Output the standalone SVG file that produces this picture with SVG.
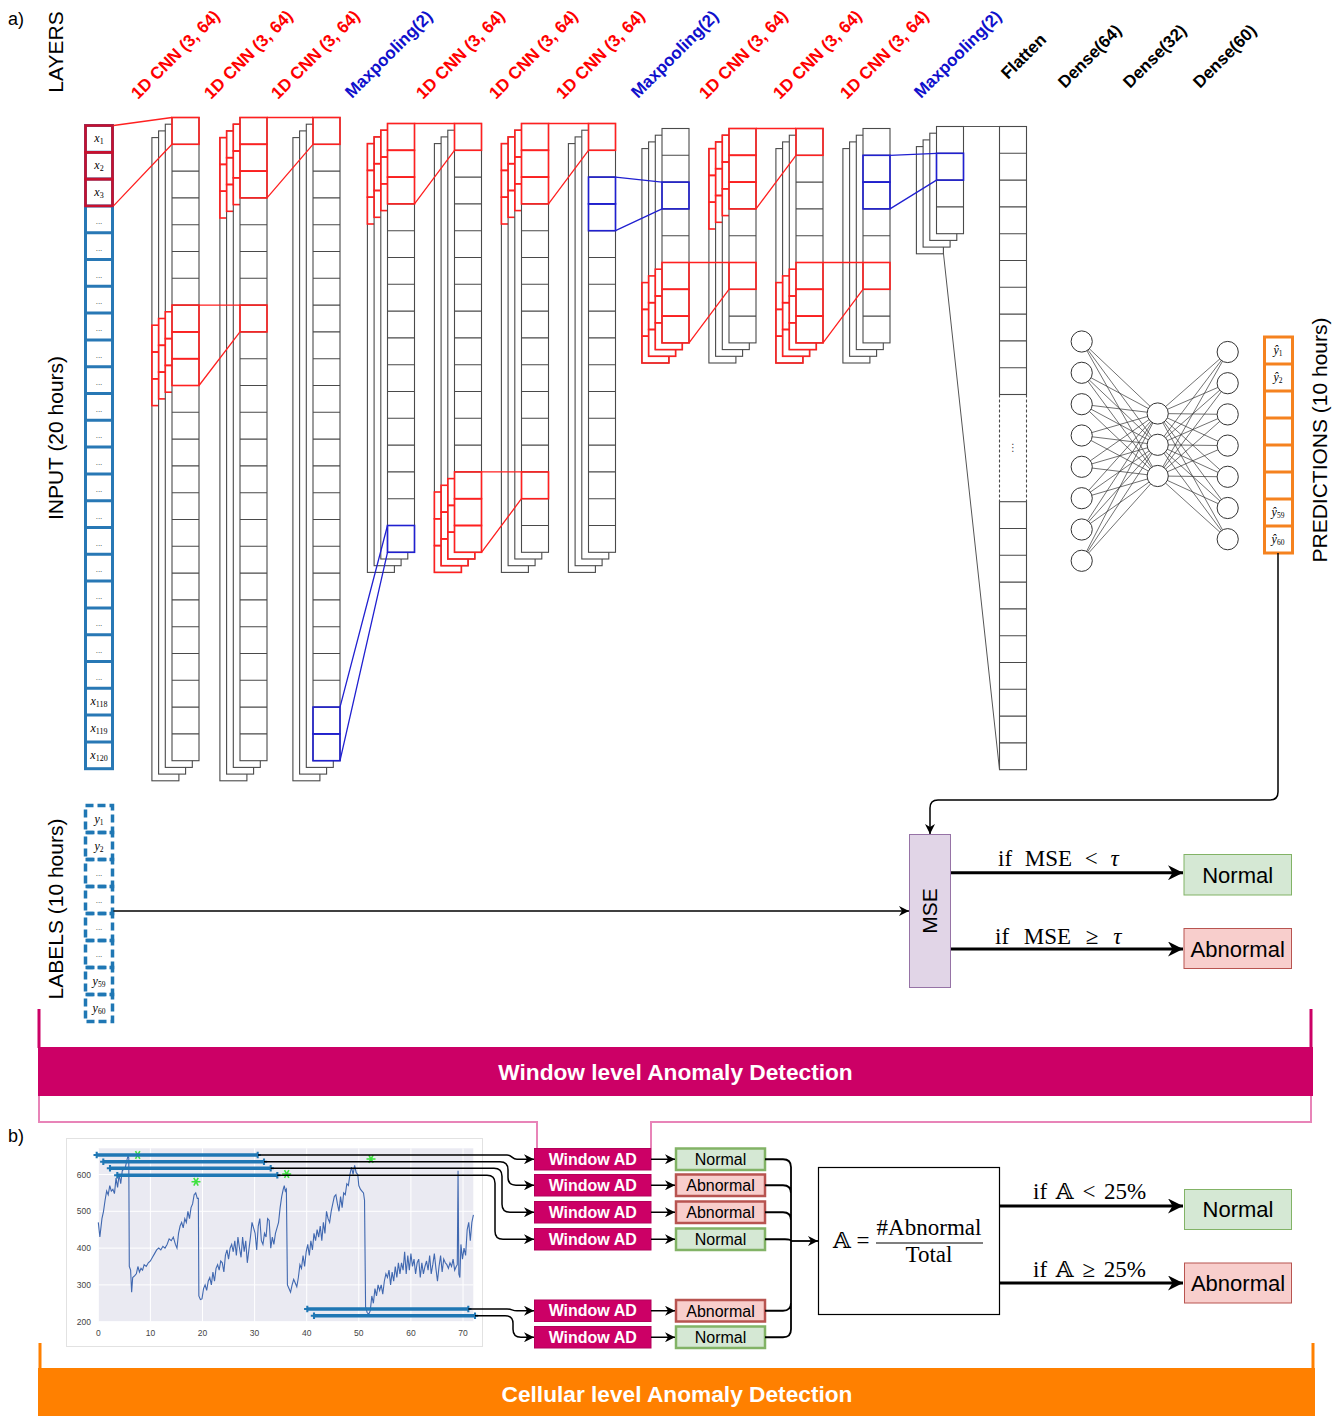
<svg xmlns="http://www.w3.org/2000/svg" width="1339" height="1416" viewBox="0 0 1339 1416">
<defs>
<style>
.col{fill:#fff;stroke:#4a4a4a;stroke-width:1.1}
.dv{fill:none;stroke:#4a4a4a;stroke-width:1.1}
.kr{fill:none;stroke:#ff2020;stroke-width:1.6}
.kb{fill:none;stroke:#2020d0;stroke-width:1.6}
.cr{fill:none;stroke:#ff2020;stroke-width:1.3}
.cb{fill:none;stroke:#2020d0;stroke-width:1.3}
.cg{fill:none;stroke:#555;stroke-width:1}
.lab{font-family:"Liberation Sans",Arial,sans-serif;font-weight:bold;font-size:17px}
.red{fill:#ff0000}
.blu{fill:#1010cc}
.blk{fill:#000}
.side{font-family:"Liberation Sans",Arial,sans-serif;font-size:21px;fill:#000;text-anchor:middle}
.mth{font-family:"Liberation Serif","DejaVu Serif",serif;font-style:italic;font-size:12px;text-anchor:middle;fill:#000}
.dots{font-family:"Liberation Sans",sans-serif;font-size:8px;text-anchor:middle;fill:#333}
.neu{fill:#fff;stroke:#333;stroke-width:1}
.edge{fill:none;stroke:#333;stroke-width:0.7}
.conn{fill:none;stroke:#000;stroke-width:1.5}
.bus{fill:none;stroke:#000;stroke-width:1.8}
.thick{fill:none;stroke:#000;stroke-width:3}
.ok{fill:#d5e8d4;stroke:#82b366}
.bad{fill:#f8cecc;stroke:#b85450}
.bt{font-family:"Liberation Sans",Arial,sans-serif;text-anchor:middle;fill:#000}
.wad{fill:#cc0066;stroke:#b3005a}
.wt{font-family:"Liberation Sans",Arial,sans-serif;font-weight:bold;font-size:16px;fill:#fff;text-anchor:middle}
.cond{font-family:"Liberation Serif","DejaVu Serif",serif;font-size:23px;fill:#000}
.tick{font-family:"Liberation Sans",Arial,sans-serif;font-size:8.5px;fill:#444}
.bar{fill:none;stroke:#1f77b4;stroke-width:3.5;marker-start:url(#pl);marker-end:url(#pl)}
.ban{font-family:"Liberation Sans",Arial,sans-serif;font-weight:bold;font-size:22.7px;fill:#fff;text-anchor:middle}
</style>
<marker id="ah" viewBox="0 0 10 10" refX="10" refY="5" markerWidth="10" markerHeight="10" markerUnits="userSpaceOnUse" orient="auto"><path d="M0 0L10 5L0 10L3 5z" fill="#000"/></marker>
<marker id="ahb" viewBox="0 0 10 10" refX="10" refY="5" markerWidth="15" markerHeight="15" markerUnits="userSpaceOnUse" orient="auto"><path d="M0 0L10 5L0 10L3 5z" fill="#000"/></marker>
<marker id="pl" viewBox="-5 -5 10 10" refX="0" refY="0" markerWidth="8" markerHeight="8" markerUnits="userSpaceOnUse"><path d="M-4 0H4M0 -4V4" stroke="#1f77b4" stroke-width="2.6"/></marker>
<rect id="b24" class="col" width="27" height="643.2"/>
<rect id="b16" class="col" width="27" height="428.8"/>
<rect id="b8" class="col" width="27" height="214.4"/>
<rect id="b4" class="col" width="27" height="107.2"/>
<g id="f24"><rect class="col" width="27" height="643.2"/><path class="dv" d="M0 26.8h27m-27 26.8h27m-27 26.8h27m-27 26.8h27m-27 26.8h27m-27 26.8h27m-27 26.8h27m-27 26.8h27m-27 26.8h27m-27 26.8h27m-27 26.8h27m-27 26.8h27m-27 26.8h27m-27 26.8h27m-27 26.8h27m-27 26.8h27m-27 26.8h27m-27 26.8h27m-27 26.8h27m-27 26.8h27m-27 26.8h27m-27 26.8h27m-27 26.8h27"/></g>
<g id="f16"><rect class="col" width="27" height="428.8"/><path class="dv" d="M0 26.8h27m-27 26.8h27m-27 26.8h27m-27 26.8h27m-27 26.8h27m-27 26.8h27m-27 26.8h27m-27 26.8h27m-27 26.8h27m-27 26.8h27m-27 26.8h27m-27 26.8h27m-27 26.8h27m-27 26.8h27m-27 26.8h27"/></g>
<g id="f10"><rect class="col" width="27" height="268"/><path class="dv" d="M0 26.8h27m-27 26.8h27m-27 26.8h27m-27 26.8h27m-27 26.8h27m-27 26.8h27m-27 26.8h27m-27 26.8h27m-27 26.8h27"/></g>
<g id="f8"><rect class="col" width="27" height="214.4"/><path class="dv" d="M0 26.8h27m-27 26.8h27m-27 26.8h27m-27 26.8h27m-27 26.8h27m-27 26.8h27m-27 26.8h27"/></g>
<g id="f4"><rect class="col" width="27" height="107.2"/><path class="dv" d="M0 26.8h27m-27 26.8h27m-27 26.8h27"/></g>
<g id="k3"><rect class="kr" width="27" height="26.8"/><rect class="kr" y="26.8" width="27" height="26.8"/><rect class="kr" y="53.6" width="27" height="26.8"/></g>
<rect id="k1" class="kr" width="27" height="26.8"/>
<g id="q2"><rect class="kb" width="27" height="26.8"/><rect class="kb" y="26.8" width="27" height="26.8"/></g>
<rect id="q1" class="kb" width="27" height="26.8"/>
<path id="star" d="M-4.5 0H4.5M-2.2 -3.9L2.2 3.9M-2.2 3.9L2.2 -3.9" stroke="#3ee23e" stroke-width="1.6" fill="none"/>
</defs>
<rect width="1339" height="1416" fill="#fff"/>

<g id="titles">
<text x="8" y="25" font-family="Liberation Sans,Arial,sans-serif" font-size="18">a)</text>
<text x="8" y="1142" font-family="Liberation Sans,Arial,sans-serif" font-size="18">b)</text>
<text class="side" transform="translate(63 52) rotate(-90)">LAYERS</text>
<text class="side" transform="translate(63 438) rotate(-90)">INPUT (20 hours)</text>
<text class="side" transform="translate(63 909) rotate(-90)">LABELS (10 hours)</text>
<text class="side" transform="translate(1327 440) rotate(-90)">PREDICTIONS (10 hours)</text>
</g>

<g id="layer-labels" class="lab">
<text class="red" transform="translate(138 100) rotate(-45)">1D CNN (3, 64)</text>
<text class="red" transform="translate(211 100) rotate(-45)">1D CNN (3, 64)</text>
<text class="red" transform="translate(278 100) rotate(-45)">1D CNN (3, 64)</text>
<text class="blu" transform="translate(352 99) rotate(-45)">Maxpooling(2)</text>
<text class="red" transform="translate(423 100) rotate(-45)">1D CNN (3, 64)</text>
<text class="red" transform="translate(496 100) rotate(-45)">1D CNN (3, 64)</text>
<text class="red" transform="translate(563 100) rotate(-45)">1D CNN (3, 64)</text>
<text class="blu" transform="translate(638 99) rotate(-45)">Maxpooling(2)</text>
<text class="red" transform="translate(706 100) rotate(-45)">1D CNN (3, 64)</text>
<text class="red" transform="translate(780 100) rotate(-45)">1D CNN (3, 64)</text>
<text class="red" transform="translate(847 100) rotate(-45)">1D CNN (3, 64)</text>
<text class="blu" transform="translate(921 99) rotate(-45)">Maxpooling(2)</text>
<text class="blk" transform="translate(1008 80) rotate(-45)">Flatten</text>
<text class="blk" transform="translate(1065 89) rotate(-45)">Dense(64)</text>
<text class="blk" transform="translate(1130 89) rotate(-45)">Dense(32)</text>
<text class="blk" transform="translate(1200 89) rotate(-45)">Dense(60)</text>
</g>

<g id="input">
<rect x="85.5" y="125.5" width="27" height="643.2" fill="#fff" stroke="#2878b5" stroke-width="3"/>
<path transform="translate(85.5 125.5)" fill="none" stroke="#2878b5" stroke-width="3" d="M0 26.8h27m-27 26.8h27m-27 26.8h27m-27 26.8h27m-27 26.8h27m-27 26.8h27m-27 26.8h27m-27 26.8h27m-27 26.8h27m-27 26.8h27m-27 26.8h27m-27 26.8h27m-27 26.8h27m-27 26.8h27m-27 26.8h27m-27 26.8h27m-27 26.8h27m-27 26.8h27m-27 26.8h27m-27 26.8h27m-27 26.8h27m-27 26.8h27m-27 26.8h27"/>
<g fill="none" stroke="#c8102e" stroke-width="2.6"><rect x="85.5" y="125.5" width="27" height="26.8"/><rect x="85.5" y="152.3" width="27" height="26.8"/><rect x="85.5" y="179.1" width="27" height="26.8"/></g>
<g class="mth"><text x="99" y="142.4">x<tspan font-size="8" font-style="normal" dy="2">1</tspan></text><text x="99" y="169.2">x<tspan font-size="8" font-style="normal" dy="2">2</tspan></text><text x="99" y="196">x<tspan font-size="8" font-style="normal" dy="2">3</tspan></text><text x="99" y="705.2">x<tspan font-size="8" font-style="normal" dy="2">118</tspan></text><text x="99" y="732">x<tspan font-size="8" font-style="normal" dy="2">119</tspan></text><text x="99" y="758.8">x<tspan font-size="8" font-style="normal" dy="2">120</tspan></text></g>
<g class="dots"><text x="99" y="224">...</text><text x="99" y="250.8">...</text><text x="99" y="277.6">...</text><text x="99" y="304.4">...</text><text x="99" y="331.2">...</text><text x="99" y="358">...</text><text x="99" y="384.8">...</text><text x="99" y="411.6">...</text><text x="99" y="438.4">...</text><text x="99" y="465.2">...</text><text x="99" y="492">...</text><text x="99" y="518.8">...</text><text x="99" y="545.6">...</text><text x="99" y="572.4">...</text><text x="99" y="599.2">...</text><text x="99" y="626">...</text><text x="99" y="652.8">...</text><text x="99" y="679.6">...</text></g>
</g>

<g id="layer1">
<use href="#b24" x="151.9" y="137.6"/><use href="#k3" x="151.9" y="325.2"/>
<use href="#b24" x="158.6" y="130.9"/><use href="#k3" x="158.6" y="318.5"/>
<use href="#b24" x="165.3" y="124.2"/><use href="#k3" x="165.3" y="311.8"/>
<use href="#f24" x="172" y="117.5"/><use href="#k3" x="172" y="305.1"/><use href="#k1" x="172" y="117.5"/>
</g>
<g id="layer2">
<use href="#b24" x="219.9" y="137.6"/><use href="#k3" x="219.9" y="137.6"/>
<use href="#b24" x="226.6" y="130.9"/><use href="#k3" x="226.6" y="130.9"/>
<use href="#b24" x="233.3" y="124.2"/><use href="#k3" x="233.3" y="124.2"/>
<use href="#f24" x="240" y="117.5"/><use href="#k3" x="240" y="117.5"/><use href="#k1" x="240" y="305.1"/>
</g>
<g id="layer3">
<use href="#b24" x="292.9" y="137.6"/><use href="#b24" x="299.6" y="130.9"/><use href="#b24" x="306.3" y="124.2"/>
<use href="#f24" x="313" y="117.5"/><use href="#k1" x="313" y="117.5"/><use href="#q2" x="313" y="707.1"/>
</g>
<g id="layer4">
<use href="#b16" x="367.4" y="143.6"/><use href="#k3" x="367.4" y="143.6"/>
<use href="#b16" x="374.1" y="136.9"/><use href="#k3" x="374.1" y="136.9"/>
<use href="#b16" x="380.8" y="130.2"/><use href="#k3" x="380.8" y="130.2"/>
<use href="#f16" x="387.5" y="123.5"/><use href="#k3" x="387.5" y="123.5"/><use href="#q1" x="387.5" y="525.5"/>
</g>
<g id="layer5">
<use href="#b16" x="434.4" y="143.6"/><use href="#k3" x="434.4" y="492"/>
<use href="#b16" x="441.1" y="136.9"/><use href="#k3" x="441.1" y="485.3"/>
<use href="#b16" x="447.8" y="130.2"/><use href="#k3" x="447.8" y="478.6"/>
<use href="#f16" x="454.5" y="123.5"/><use href="#k3" x="454.5" y="471.9"/><use href="#k1" x="454.5" y="123.5"/>
</g>
<g id="layer6">
<use href="#b16" x="501.4" y="143.6"/><use href="#k3" x="501.4" y="143.6"/>
<use href="#b16" x="508.1" y="136.9"/><use href="#k3" x="508.1" y="136.9"/>
<use href="#b16" x="514.8" y="130.2"/><use href="#k3" x="514.8" y="130.2"/>
<use href="#f16" x="521.5" y="123.5"/><use href="#k3" x="521.5" y="123.5"/><use href="#k1" x="521.5" y="471.9"/>
</g>
<g id="layer7">
<use href="#b16" x="568.4" y="143.6"/><use href="#b16" x="575.1" y="136.9"/><use href="#b16" x="581.8" y="130.2"/>
<use href="#f16" x="588.5" y="123.5"/><use href="#k1" x="588.5" y="123.5"/><use href="#q2" x="588.5" y="177.1"/>
</g>
<g id="layer8">
<use href="#b8" x="641.9" y="148.6"/><use href="#k3" x="641.9" y="282.6"/>
<use href="#b8" x="648.6" y="141.9"/><use href="#k3" x="648.6" y="275.9"/>
<use href="#b8" x="655.3" y="135.2"/><use href="#k3" x="655.3" y="269.2"/>
<use href="#f8" x="662" y="128.5"/><use href="#k3" x="662" y="262.5"/><use href="#q1" x="662" y="182.1"/>
</g>
<g id="layer9">
<use href="#b8" x="708.9" y="148.6"/><use href="#k3" x="708.9" y="148.6"/>
<use href="#b8" x="715.6" y="141.9"/><use href="#k3" x="715.6" y="141.9"/>
<use href="#b8" x="722.3" y="135.2"/><use href="#k3" x="722.3" y="135.2"/>
<use href="#f8" x="729" y="128.5"/><use href="#k3" x="729" y="128.5"/><use href="#k1" x="729" y="262.5"/>
</g>
<g id="layer10">
<use href="#b8" x="775.9" y="148.6"/><use href="#k3" x="775.9" y="282.6"/>
<use href="#b8" x="782.6" y="141.9"/><use href="#k3" x="782.6" y="275.9"/>
<use href="#b8" x="789.3" y="135.2"/><use href="#k3" x="789.3" y="269.2"/>
<use href="#f8" x="796" y="128.5"/><use href="#k3" x="796" y="262.5"/><use href="#k1" x="796" y="128.5"/>
</g>
<g id="layer11">
<use href="#b8" x="842.9" y="148.6"/><use href="#b8" x="849.6" y="141.9"/><use href="#b8" x="856.3" y="135.2"/>
<use href="#f8" x="863" y="128.5"/><use href="#k1" x="863" y="262.5"/><use href="#q2" x="863" y="155.3"/>
</g>
<g id="layer12">
<use href="#b4" x="916.4" y="146.6"/><use href="#b4" x="923.1" y="139.9"/><use href="#b4" x="929.8" y="133.2"/>
<use href="#f4" x="936.5" y="126.5"/><use href="#q1" x="936.5" y="153.3"/>
</g>
<g id="flatten">
<use href="#f10" x="999.5" y="126.5"/>
<path d="M999.5 394.5V501.7M1026.5 394.5V501.7" stroke="#4a4a4a" stroke-width="1.1" stroke-dasharray="3 2" fill="none"/>
<use href="#f10" x="999.5" y="501.7"/>
<text x="1013" y="451" font-family="DejaVu Sans,sans-serif" font-size="10" text-anchor="middle" fill="#444">⋮</text>
</g>

<g id="cnn-connectors">
<path class="cr" d="M113.5 125.5L172 117.5M113.5 205.9L172 144.3M199 305.1H240M199 385.5L240 331.9M267 117.5H313M267 197.9L313 144.3M414.5 123.5H454.5M414.5 203.9L454.5 150.3M481.5 471.9H521.5M481.5 552.3L521.5 498.7M548.5 123.5H588.5M548.5 203.9L588.5 150.3M689 262.5H729M689 342.9L729 289.3M756 128.5H796M756 208.9L796 155.3M823 262.5H863M823 342.9L863 289.3"/>
<path class="cb" d="M340 707.1L387.5 525.5M340 760.7L387.5 552.3M615.5 177.1L662 182.1M615.5 230.7L662 208.9M890 155.3L936.5 153.3M890 208.9L936.5 180.1"/>
<path class="cg" d="M963.5 126.5H999.5M943.5 253.8L999.5 769.7"/>
</g>

<g id="dense">
<path class="edge" d="M1081.7 341.5L1157.7 413.5M1081.7 341.5L1157.7 444.8M1081.7 341.5L1157.7 476M1081.7 372.8L1157.7 413.5M1081.7 372.8L1157.7 444.8M1081.7 372.8L1157.7 476M1081.7 404.2L1157.7 413.5M1081.7 404.2L1157.7 444.8M1081.7 404.2L1157.7 476M1081.7 435.5L1157.7 413.5M1081.7 435.5L1157.7 444.8M1081.7 435.5L1157.7 476M1081.7 466.8L1157.7 413.5M1081.7 466.8L1157.7 444.8M1081.7 466.8L1157.7 476M1081.7 498.2L1157.7 413.5M1081.7 498.2L1157.7 444.8M1081.7 498.2L1157.7 476M1081.7 529.5L1157.7 413.5M1081.7 529.5L1157.7 444.8M1081.7 529.5L1157.7 476M1081.7 560.8L1157.7 413.5M1081.7 560.8L1157.7 444.8M1081.7 560.8L1157.7 476M1157.7 413.5L1227.7 352M1157.7 413.5L1227.7 383.2M1157.7 413.5L1227.7 414.4M1157.7 413.5L1227.7 445.6M1157.7 413.5L1227.7 476.8M1157.7 413.5L1227.7 508M1157.7 413.5L1227.7 539.2M1157.7 444.8L1227.7 352M1157.7 444.8L1227.7 383.2M1157.7 444.8L1227.7 414.4M1157.7 444.8L1227.7 445.6M1157.7 444.8L1227.7 476.8M1157.7 444.8L1227.7 508M1157.7 444.8L1227.7 539.2M1157.7 476L1227.7 352M1157.7 476L1227.7 383.2M1157.7 476L1227.7 414.4M1157.7 476L1227.7 445.6M1157.7 476L1227.7 476.8M1157.7 476L1227.7 508M1157.7 476L1227.7 539.2"/>
<g class="neu">
<circle cx="1081.7" cy="341.5" r="10.6"/><circle cx="1081.7" cy="372.8" r="10.6"/><circle cx="1081.7" cy="404.2" r="10.6"/><circle cx="1081.7" cy="435.5" r="10.6"/><circle cx="1081.7" cy="466.8" r="10.6"/><circle cx="1081.7" cy="498.2" r="10.6"/><circle cx="1081.7" cy="529.5" r="10.6"/><circle cx="1081.7" cy="560.8" r="10.6"/>
<circle cx="1157.7" cy="413.5" r="10.6"/><circle cx="1157.7" cy="444.8" r="10.6"/><circle cx="1157.7" cy="476" r="10.6"/>
<circle cx="1227.7" cy="352" r="10.6"/><circle cx="1227.7" cy="383.2" r="10.6"/><circle cx="1227.7" cy="414.4" r="10.6"/><circle cx="1227.7" cy="445.6" r="10.6"/><circle cx="1227.7" cy="476.8" r="10.6"/><circle cx="1227.7" cy="508" r="10.6"/><circle cx="1227.7" cy="539.2" r="10.6"/>
</g>
</g>

<g id="predictions">
<rect x="1264.5" y="337" width="28" height="216" fill="#fff" stroke="#f5821f" stroke-width="3"/>
<path transform="translate(1264.5 337)" fill="none" stroke="#f5821f" stroke-width="3" d="M0 27h28m-28 27h28m-28 27h28m-28 27h28m-28 27h28m-28 27h28m-28 27h28"/>
<g class="mth" font-size="11"><text x="1278" y="354">ŷ<tspan font-size="7.5" font-style="normal" dy="2">1</tspan></text><text x="1278" y="381">ŷ<tspan font-size="7.5" font-style="normal" dy="2">2</tspan></text><text x="1278" y="516">ŷ<tspan font-size="7.5" font-style="normal" dy="2">59</tspan></text><text x="1278" y="543">ŷ<tspan font-size="7.5" font-style="normal" dy="2">60</tspan></text></g>
</g>

<g id="labels">
<g fill="none" stroke="#1f77b4" stroke-width="3.5" stroke-dasharray="8 4">
<rect x="85.5" y="805.5" width="27" height="27"/><rect x="85.5" y="832.5" width="27" height="27"/><rect x="85.5" y="859.5" width="27" height="27"/><rect x="85.5" y="886.5" width="27" height="27"/><rect x="85.5" y="913.5" width="27" height="27"/><rect x="85.5" y="940.5" width="27" height="27"/><rect x="85.5" y="967.5" width="27" height="27"/><rect x="85.5" y="994.5" width="27" height="27"/>
</g>
<g class="mth" font-size="11"><text x="99" y="822.5">y<tspan font-size="7.5" font-style="normal" dy="2">1</tspan></text><text x="99" y="849.5">y<tspan font-size="7.5" font-style="normal" dy="2">2</tspan></text><text x="99" y="984.5">y<tspan font-size="7.5" font-style="normal" dy="2">59</tspan></text><text x="99" y="1011.5">y<tspan font-size="7.5" font-style="normal" dy="2">60</tspan></text></g>
<g class="dots"><text x="99" y="876">...</text><text x="99" y="903">...</text><text x="99" y="930">...</text><text x="99" y="957">...</text></g>
</g>

<g id="mse">
<rect x="909.5" y="834.5" width="41" height="153" fill="#e1d5e7" stroke="#9673a6"/>
<text class="side" font-size="20" transform="translate(937 911) rotate(-90)">MSE</text>
</g>
<g id="window-out">
<rect class="ok" x="1184" y="854.5" width="107.5" height="40.5"/>
<text class="bt" x="1237.7" y="882.5" font-size="22">Normal</text>
<rect class="bad" x="1184" y="928.5" width="107.5" height="40"/>
<text class="bt" x="1237.7" y="956.5" font-size="22">Abnormal</text>
</g>
<g id="window-connectors">
<path class="conn" d="M1278 553V792Q1278 800 1270 800H938Q930 800 930 808V834" marker-end="url(#ah)"/>
<path class="conn" d="M113.5 911H909" marker-end="url(#ah)"/>
<path class="thick" d="M951 872.7H1183" marker-end="url(#ahb)"/>
<path class="thick" d="M951 949H1183" marker-end="url(#ahb)"/>
<text class="cond" x="998" y="866" word-spacing="7">if MSE &lt; <tspan font-style="italic">τ</tspan></text>
<text class="cond" x="995" y="944" word-spacing="9">if MSE ≥ <tspan font-style="italic">τ</tspan></text>
</g>

<g id="window-banner">
<path d="M39 1009V1048M1311 1009V1048" stroke="#cc0066" stroke-width="3"/>
<rect x="38" y="1047" width="1275" height="49" fill="#cc0066"/>
<text class="ban" x="675.5" y="1080">Window level Anomaly Detection</text>
<path d="M39 1096V1122H537V1148M1311 1096V1122H651V1148" fill="none" stroke="#e884b8" stroke-width="2"/>
</g>

<g id="plot">
<rect x="66.5" y="1138.5" width="416" height="208" fill="#fff" stroke="#e2e2e2"/>
<rect x="98.3" y="1148.3" width="375" height="173.4" fill="#eaeaf2"/>
<path d="M98.3 1148.3V1321.7M150.4 1148.3V1321.7M202.5 1148.3V1321.7M254.6 1148.3V1321.7M306.7 1148.3V1321.7M358.8 1148.3V1321.7M410.9 1148.3V1321.7M463 1148.3V1321.7M98.3 1321.7H473.3M98.3 1284.9H473.3M98.3 1248.1H473.3M98.3 1211.3H473.3M98.3 1174.5H473.3" stroke="#fff" stroke-width="1"/>
<g class="tick" text-anchor="end"><text x="91" y="1177.5">600</text><text x="91" y="1214.3">500</text><text x="91" y="1251.1">400</text><text x="91" y="1287.9">300</text><text x="91" y="1324.7">200</text></g>
<g class="tick" text-anchor="middle"><text x="98.3" y="1336">0</text><text x="150.4" y="1336">10</text><text x="202.5" y="1336">20</text><text x="254.6" y="1336">30</text><text x="306.7" y="1336">40</text><text x="358.8" y="1336">50</text><text x="410.9" y="1336">60</text><text x="463" y="1336">70</text></g>
<polyline transform="translate(98.3 1395.3) scale(5.21 -0.368)" vector-effect="non-scaling-stroke" fill="none" stroke="#4068b0" stroke-width="1.1" points="0,470 0.3,430 0.7,480 1,500 1.3,530 1.6,555 1.9,545 2.2,570 2.5,555 2.8,560 3.1,548 3.4,590 3.7,565 4,600 4.3,575 4.6,610 4.9,615 5.2,620 5.5,640 5.7,650 5.85,645 5.95,350 6.2,340 6.4,280 6.6,320 7,325 7.3,330 7.6,350 7.9,335 8.2,345 8.5,340 8.8,355 9.2,350 9.6,360 10,365 10.4,375 10.8,385 11.2,395 11.6,400 12,395 12.4,405 12.8,400 13.2,410 13.6,425 14,420 14.4,430 14.8,410 15.1,400 15.4,440 15.7,460 16,470 16.3,455 16.6,480 16.9,470 17.2,500 17.5,480 17.8,510 18.1,520 18.4,545 18.7,550 19,535 19.2,535 19.3,270 19.6,260 19.9,262 20.2,290 20.5,300 20.8,285 21.1,310 21.4,320 21.7,300 22,335 22.3,310 22.6,345 22.9,355 23.2,340 23.5,365 23.8,360 24.1,335 24.4,380 24.7,395 25,370 25.3,400 25.6,410 25.9,390 26.2,420 26.5,380 26.8,430 27.1,400 27.4,375 27.7,430 28,390 28.3,420 28.6,360 28.9,395 29.2,430 29.5,470 29.8,455 30.1,440 30.4,395 30.7,460 31,480 31.3,420 31.6,410 31.9,440 32.2,430 32.5,480 32.8,475 33.1,400 33.4,430 33.7,410 34,440 34.3,455 34.6,470 34.9,510 35.2,540 35.5,560 35.7,570 35.9,555 36.1,560 36.3,300 36.6,290 36.9,280 37.2,300 37.5,315 37.8,305 38.1,295 38.4,320 38.7,355 39,345 39.3,380 39.6,350 39.9,390 40.2,410 40.5,380 40.8,420 41.1,395 41.4,440 41.7,420 42,450 42.3,430 42.6,460 42.9,420 43.2,470 43.5,440 43.8,500 44.1,480 44.4,470 44.7,500 45,520 45.3,540 45.6,545 45.9,520 46.2,500 46.5,540 46.8,510 47.1,550 47.4,545 47.7,575 48,570 48.3,600 48.6,620 48.9,600 49.2,625 49.5,605 49.8,600 50,570 50.3,560 50.6,555 50.9,550 51.1,530 51.3,240 51.6,225 51.9,220 52.2,230 52.5,270 52.8,250 53.1,290 53.4,270 53.7,300 54,285 54.3,300 54.6,275 54.9,310 55.2,330 55.5,320 55.8,340 56.1,300 56.4,335 56.7,310 57,350 57.3,320 57.6,360 57.9,330 58.2,360 58.5,340 58.8,390 59.1,330 59.4,380 59.7,340 60,385 60.3,350 60.6,370 60.9,330 61.2,360 61.5,370 61.8,320 62.1,360 62.4,330 62.7,350 63,365 63.3,340 63.6,380 63.9,330 64.2,355 64.5,385 64.8,345 65.1,310 65.4,350 65.7,380 66,335 66.3,370 66.6,360 66.9,355 67.2,345 67.5,360 67.8,350 68.1,370 68.4,340 68.7,350 68.9,355 69.05,610 69.2,330 69.4,320 69.6,410 69.9,370 70.2,400 70.5,380 70.8,450 71.1,470 71.4,420 71.7,470 72,490"/>
<use href="#star" x="137.7" y="1155"/><use href="#star" x="196" y="1181.7"/><use href="#star" x="286.7" y="1174"/><use href="#star" x="371" y="1159"/>
<path class="bar" d="M96.7 1155H257.7"/>
<path class="bar" d="M103.3 1161.7H264"/>
<path class="bar" d="M110 1168.3H270.7"/>
<path class="bar" d="M117.3 1175.3H277.3"/>
<path class="bar" d="M307.3 1309H468.3"/>
<path class="bar" d="M314 1315.7H475"/>
</g>

<g id="window-ad">
<rect class="wad" x="534.5" y="1148.5" width="116.5" height="21.5"/><text class="wt" x="592.7" y="1164.8">Window AD</text>
<rect class="wad" x="534.5" y="1174.5" width="116.5" height="21.5"/><text class="wt" x="592.7" y="1190.8">Window AD</text>
<rect class="wad" x="534.5" y="1201.5" width="116.5" height="21.5"/><text class="wt" x="592.7" y="1217.8">Window AD</text>
<rect class="wad" x="534.5" y="1228.5" width="116.5" height="21.5"/><text class="wt" x="592.7" y="1244.8">Window AD</text>
<rect class="wad" x="534.5" y="1300" width="116.5" height="21.5"/><text class="wt" x="592.7" y="1316.3">Window AD</text>
<rect class="wad" x="534.5" y="1326.5" width="116.5" height="21.5"/><text class="wt" x="592.7" y="1342.8">Window AD</text>
</g>
<g id="window-results" stroke-width="2.5">
<rect class="ok" x="676" y="1148.5" width="89" height="21.5"/><text class="bt" x="720.5" y="1165" font-size="16">Normal</text>
<rect class="bad" x="676" y="1174.5" width="89" height="21.5"/><text class="bt" x="720.5" y="1191" font-size="16">Abnormal</text>
<rect class="bad" x="676" y="1201.5" width="89" height="21.5"/><text class="bt" x="720.5" y="1218" font-size="16">Abnormal</text>
<rect class="ok" x="676" y="1228.5" width="89" height="21.5"/><text class="bt" x="720.5" y="1245" font-size="16">Normal</text>
<rect class="bad" x="676" y="1300" width="89" height="21.5"/><text class="bt" x="720.5" y="1316.5" font-size="16">Abnormal</text>
<rect class="ok" x="676" y="1326.5" width="89" height="21.5"/><text class="bt" x="720.5" y="1343" font-size="16">Normal</text>
</g>

<g id="cell-connectors">
<path class="conn" marker-end="url(#ah)" d="M258 1155H507C512 1155 512 1159.25 517 1159.25H534"/>
<path class="conn" marker-end="url(#ah)" d="M264 1161.7H500Q508 1161.7 508 1169.7V1177.25Q508 1185.25 516 1185.25H534"/>
<path class="conn" marker-end="url(#ah)" d="M270.7 1168.3H494Q502 1168.3 502 1176.3V1204.25Q502 1212.25 510 1212.25H534"/>
<path class="conn" marker-end="url(#ah)" d="M277.3 1175.3H487Q495 1175.3 495 1183.3V1231.25Q495 1239.25 503 1239.25H534"/>
<path class="conn" marker-end="url(#ah)" d="M468.3 1309H507C512 1309 512 1310.75 517 1310.75H534"/>
<path class="conn" marker-end="url(#ah)" d="M475 1315.7H505Q513 1315.7 513 1323.7V1329.25Q513 1337.25 521 1337.25H534"/>
<path class="conn" marker-end="url(#ah)" d="M651 1159.25H675"/>
<path class="conn" marker-end="url(#ah)" d="M651 1185.25H675"/>
<path class="conn" marker-end="url(#ah)" d="M651 1212.25H675"/>
<path class="conn" marker-end="url(#ah)" d="M651 1239.25H675"/>
<path class="conn" marker-end="url(#ah)" d="M651 1310.75H675"/>
<path class="conn" marker-end="url(#ah)" d="M651 1337.25H675"/>
<path class="bus" d="M765 1159.25H783Q791 1159.25 791 1167.25V1241M765 1185.25H783Q791 1185.25 791 1193.25V1241M765 1212.25H783Q791 1212.25 791 1220.25V1241M765 1239.25H785Q791 1239.25 791 1241M765 1310.75H783Q791 1310.75 791 1302.75V1241M765 1337.25H783Q791 1337.25 791 1329.25V1241"/>
<path class="bus" marker-end="url(#ah)" d="M791 1241H818"/>
<path class="thick" d="M999.5 1206H1183" marker-end="url(#ahb)"/>
<path class="thick" d="M999.5 1283H1183" marker-end="url(#ahb)"/>
<text class="cond" x="1033" y="1199" word-spacing="3">if 𝔸 &lt; 25%</text>
<text class="cond" x="1033" y="1277" word-spacing="3">if 𝔸 ≥ 25%</text>
</g>

<g id="formula">
<rect x="818.5" y="1167.5" width="181" height="147" fill="#fff" stroke="#000" stroke-width="1.2"/>
<text class="cond" font-size="20" x="833" y="1248">𝔸 =</text>
<text class="cond" font-size="20" x="929" y="1235" text-anchor="middle">#Abnormal</text>
<path d="M876 1243H983" stroke="#000" stroke-width="1.2"/>
<text class="cond" font-size="20" x="929" y="1262" text-anchor="middle">Total</text>
</g>
<g id="cell-out">
<rect class="ok" x="1184.5" y="1189.5" width="107" height="40"/>
<text class="bt" x="1238" y="1217" font-size="22">Normal</text>
<rect class="bad" x="1184.5" y="1263" width="107" height="40"/>
<text class="bt" x="1238" y="1290.5" font-size="22">Abnormal</text>
</g>

<g id="cell-banner">
<path d="M40 1343V1369M1313 1343V1369" stroke="#ff8000" stroke-width="3"/>
<rect x="38" y="1368" width="1277" height="48" fill="#ff8000"/>
<text class="ban" x="677" y="1402">Cellular level Anomaly Detection</text>
</g>
</svg>
